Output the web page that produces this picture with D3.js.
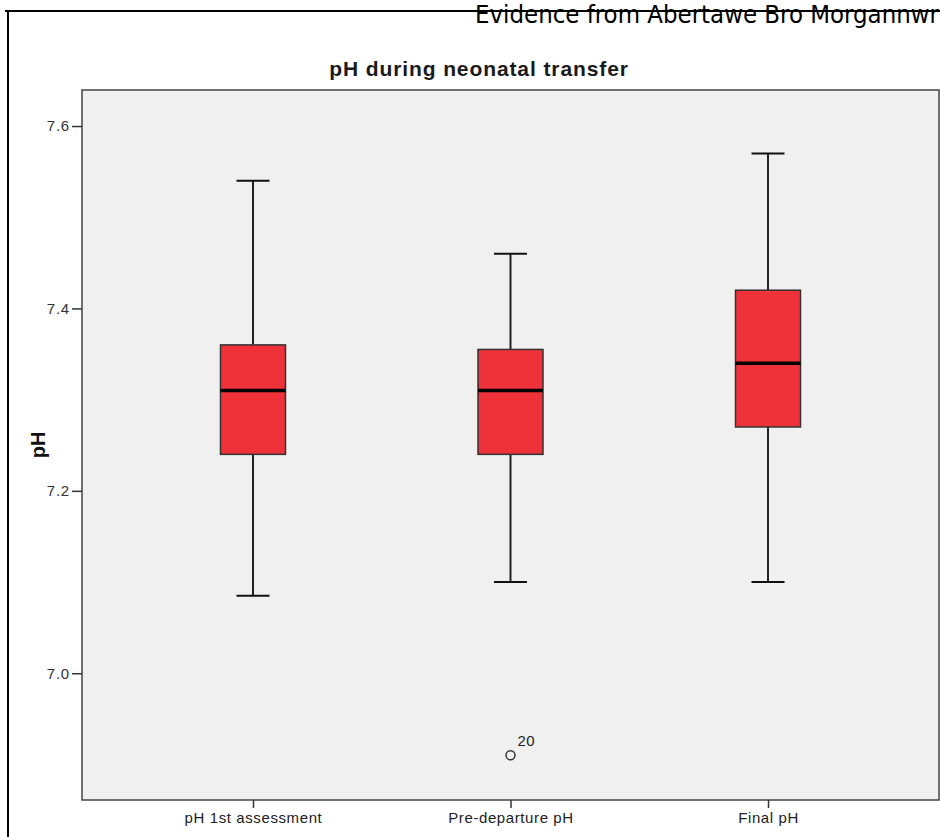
<!DOCTYPE html>
<html><head><meta charset="utf-8">
<script src="https://cdn.jsdelivr.net/npm/d3@7"></script>
<style>body{margin:0;background:#fff}svg{display:block}</style>
</head><body>
<script>
const categories = ["pH 1st assessment", "Pre-departure pH", "Final pH"];
const whiskerLow  = [7.085, 7.10, 7.10];
const q1          = [7.24, 7.24, 7.27];
const median      = [7.31, 7.31, 7.34];
const q3          = [7.36, 7.355, 7.42];
const whiskerHigh = [7.54, 7.46, 7.57];
const outliers = [{cat: "Pre-departure pH", value: 6.91, label: "20"}];
const yTicks = [7.0, 7.2, 7.4, 7.6];

const W = 940, H = 837;
const svg = d3.select("body").append("svg").attr("width", W).attr("height", H);
const L = 82, R = 939, T = 90, B = 800;
const FONT = "Liberation Sans, Arial, sans-serif";

// outer frame
svg.append("path").attr("d", `M5,11 H940 M8,11 V${H}`).attr("stroke", "#000").attr("stroke-width", 2).attr("fill", "none");

svg.append("text").attr("x", 475).attr("y", 23).attr("font-family", "DejaVu Sans Condensed, DejaVu Sans").attr("font-size", 25.5).attr("fill", "#000").text("Evidence from Abertawe Bro Morgannwr");

const x = d3.scalePoint().domain(categories).range([L, R]).padding(0.664);
const y = d3.scaleLinear().domain([6.861, 7.6395]).range([B, T]);

svg.append("rect").attr("x", L).attr("y", T).attr("width", R - L).attr("height", B - T).attr("fill", "#f0f0f0").attr("stroke", "#444").attr("stroke-width", 1.5);

svg.append("text").attr("x", 479).attr("y", 76).attr("text-anchor", "middle").attr("font-family", FONT).attr("font-weight", "bold").attr("font-size", 21).attr("letter-spacing", 0.9).attr("fill", "#1a1a1a").text("pH during neonatal transfer");

const yAxis = svg.append("g").attr("transform", `translate(${L},0)`).call(d3.axisLeft(y).tickValues(yTicks).tickFormat(d3.format(".1f")).tickSize(10).tickSizeOuter(0));
yAxis.select(".domain").remove();
yAxis.selectAll("line").attr("stroke", "#333").attr("stroke-width", 1.5);
yAxis.selectAll("text").attr("font-family", FONT).attr("font-size", 15).attr("letter-spacing", 0.8).attr("fill", "#333").attr("dx", 1);

const xAxis = svg.append("g").attr("transform", `translate(0,${B})`).call(d3.axisBottom(x).tickSize(8).tickSizeOuter(0));
xAxis.select(".domain").remove();
xAxis.selectAll("line").attr("stroke", "#333").attr("stroke-width", 1.5);
xAxis.selectAll("text").attr("font-family", FONT).attr("font-size", 15).attr("letter-spacing", 0.6).attr("fill", "#222").attr("dy", "0.8em");

svg.append("text").attr("transform", "translate(45,445) rotate(-90)").attr("text-anchor", "middle").attr("font-family", FONT).attr("font-weight", "bold").attr("font-size", 20).attr("fill", "#111").text("pH");

const boxW = 65, capW = 33;
categories.forEach((c, i) => {
  const cx = x(c);
  const g = svg.append("g");
  g.append("line").attr("x1", cx).attr("x2", cx).attr("y1", y(whiskerHigh[i])).attr("y2", y(q3[i])).attr("stroke", "#222").attr("stroke-width", 2);
  g.append("line").attr("x1", cx).attr("x2", cx).attr("y1", y(q1[i])).attr("y2", y(whiskerLow[i])).attr("stroke", "#222").attr("stroke-width", 2);
  g.append("line").attr("x1", cx - capW/2).attr("x2", cx + capW/2).attr("y1", y(whiskerHigh[i])).attr("y2", y(whiskerHigh[i])).attr("stroke", "#111").attr("stroke-width", 2);
  g.append("line").attr("x1", cx - capW/2).attr("x2", cx + capW/2).attr("y1", y(whiskerLow[i])).attr("y2", y(whiskerLow[i])).attr("stroke", "#111").attr("stroke-width", 2);
  g.append("rect").attr("x", cx - boxW/2).attr("y", y(q3[i])).attr("width", boxW).attr("height", y(q1[i]) - y(q3[i])).attr("fill", "#ef3239").attr("stroke", "#333").attr("stroke-width", 1.5);
  g.append("line").attr("x1", cx - boxW/2).attr("x2", cx + boxW/2).attr("y1", y(median[i])).attr("y2", y(median[i])).attr("stroke", "#000").attr("stroke-width", 3.5);
});

outliers.forEach(o => {
  const cx = x(o.cat), cy = y(o.value);
  svg.append("circle").attr("cx", cx).attr("cy", cy).attr("r", 4.5).attr("fill", "none").attr("stroke", "#333").attr("stroke-width", 1.5);
  svg.append("text").attr("x", cx + 7).attr("y", cy - 9).attr("font-family", FONT).attr("font-size", 15).attr("letter-spacing", 0.5).attr("fill", "#222").text(o.label);
});
</script>
</body></html>
